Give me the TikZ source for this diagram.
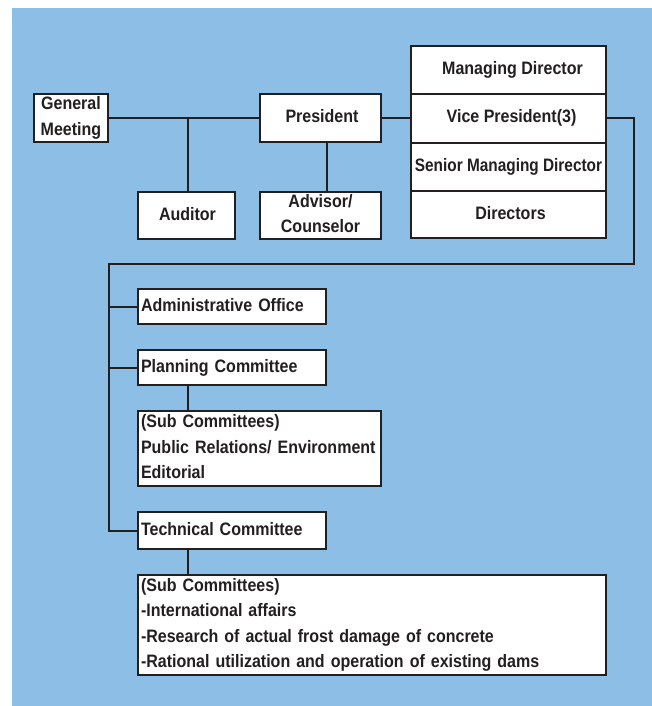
\documentclass[tikz,border=0pt]{standalone}
\usepackage{fontspec}
\newfontfamily\orgfont{Liberation Sans Bold}[FakeStretch=0.89]
\definecolor{bgblue}{RGB}{141,190,230}
\definecolor{ink}{RGB}{35,31,32}
\newcommand\lnstrut{\rule[-4pt]{0pt}{17pt}}
\begin{document}
\begin{tikzpicture}[x=1pt,y=-1pt,
  box/.style={draw=ink, line width=2pt, fill=white, text=ink,
    font=\orgfont\fontsize{18}{25.3}\selectfont, inner sep=0pt, inner xsep=3pt},
  one/.style={text height=13pt, text depth=4pt},
  conn/.style={draw=ink, line width=2pt}]
\path[use as bounding box] (0,0) rectangle (652,706);
\fill[bgblue] (12,8) rectangle (652,706);

% top row
\node[box, align=center, minimum width=74pt, minimum height=48pt] (gm) at (71,118)
  {\lnstrut General\\\lnstrut Meeting};
\node[box, one, minimum width=121pt, minimum height=48pt] (pres) at (320.5,118) {\hspace*{3pt}President};
\node[box, one, minimum width=97pt, minimum height=47pt] (aud) at (186.5,215.5) {\hspace*{2pt}Auditor};
\node[box, align=center, minimum width=121pt, minimum height=47pt] (adv) at (320.5,215.5)
  {\lnstrut Advisor/\\\lnstrut Counselor};

% officer stack
\node[box, one, minimum width=195pt, minimum height=48pt] (md) at (508.5,70) {\hspace*{8pt}Managing Director};
\node[box, one, minimum width=195pt, minimum height=49pt] (vp) at (508.5,118.5) {\hspace*{6pt}Vice President(3)};
\node[box, one, minimum width=195pt, minimum height=48pt] (smd) at (508.5,167)
  {\scalebox{0.96}[1]{Senior Managing Director}};
\node[box, one, minimum width=195pt, minimum height=47pt] (dir) at (508.5,214.5) {\hspace*{4pt}Directors};

% lower part
\node[box, one, align=left, text width=182pt, minimum height=35pt] (admin) at (232,306.5)
  {Administrative Office};
\node[box, one, align=left, text width=182pt, minimum height=35pt] (plan) at (232,367.5)
  {Planning Committee};
\node[box, align=left, text width=237pt, minimum height=75pt] (sub1) at (259.5,448.5)
  {\lnstrut(Sub Committees)\\\lnstrut Public Relations/ Environment\\\lnstrut Editorial};
\node[box, one, align=left, text width=182pt, minimum height=37pt] (tech) at (232,530.5)
  {Technical Committee};
\node[box, align=left, text width=462pt, minimum height=100pt] (sub2) at (372,625)
  {\lnstrut(Sub Committees)\\\lnstrut -International affairs\\
   \lnstrut -Research of actual frost damage of concrete\\
   \lnstrut -Rational utilization and operation of existing dams};

% connectors
\coordinate (j1) at (188,118);
\coordinate (j2) at (327,118);
\coordinate (r1) at (634,264);
\coordinate (r2) at (109,264);
\draw[conn] (gm.east) -- (pres.west);
\draw[conn] (j1) -- (j1 |- aud.north);
\draw[conn] (pres.east) -- (vp.west |- pres.east);
\draw[conn] (j2 |- pres.south) -- (j2 |- adv.north);
\draw[conn] (vp.east) -| (r1) -- (r2) |- (tech.west);
\draw[conn] (r2 |- admin.west) -- (admin.west);
\draw[conn] (r2 |- plan.west) -- (plan.west);
\draw[conn] (j1 |- plan.south) -- (j1 |- sub1.north);
\draw[conn] (j1 |- tech.south) -- (j1 |- sub2.north);
\end{tikzpicture}
\end{document}
